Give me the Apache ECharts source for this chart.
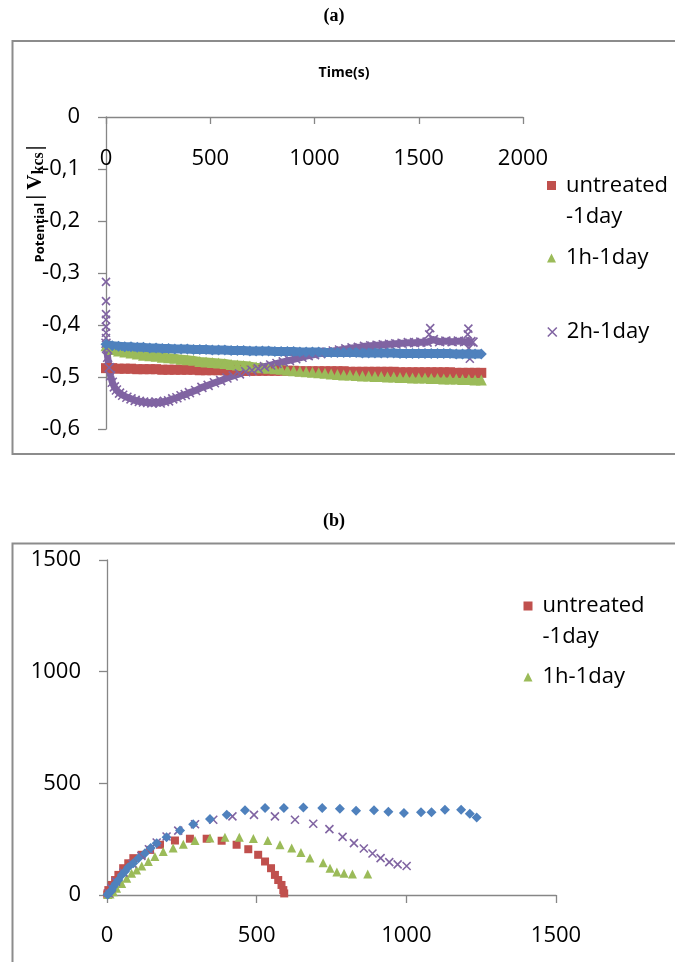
<!DOCTYPE html>
<html>
<head>
<meta charset="utf-8">
<script src="https://cdn.jsdelivr.net/npm/echarts@6/dist/echarts.min.js"></script>
<style>
  html, body { margin: 0; padding: 0; background: #fff; }
  #chart { width: 675px; height: 962px; }
</style>
</head>
<body>
<div id="chart"></div>
<script>
// ---------- (a) open-circuit potential vs time ----------
const timeA = [0,30,60,90,120,150,180,210,240,270,300,330,360,390,420,450,480,510,540,570,
  600,630,660,690,720,750,780,810,840,870,900,930,960,990,1020,1050,1080,1110,1140,1170,
  1200,1230,1260,1290,1320,1350,1380,1410,1440,1470,1500,1530,1560,1590,1620,1650,1680,1710,1740,1770,1800];

const untreatedA = [-0.483,-0.483,-0.484,-0.484,-0.484,-0.485,-0.485,-0.485,-0.485,-0.486,
  -0.486,-0.486,-0.486,-0.486,-0.486,-0.487,-0.487,-0.487,-0.487,-0.487,
  -0.487,-0.487,-0.488,-0.488,-0.488,-0.488,-0.488,-0.488,-0.488,-0.488,
  -0.488,-0.489,-0.489,-0.489,-0.489,-0.489,-0.489,-0.489,-0.489,-0.490,
  -0.490,-0.490,-0.490,-0.490,-0.490,-0.490,-0.490,-0.491,-0.491,-0.491,
  -0.491,-0.491,-0.491,-0.491,-0.491,-0.491,-0.492,-0.492,-0.492,-0.492,-0.492];

const h1A = [-0.440,-0.447,-0.450,-0.452,-0.454,-0.456,-0.458,-0.459,-0.460,-0.462,
  -0.463,-0.464,-0.466,-0.467,-0.468,-0.470,-0.471,-0.472,-0.473,-0.474,
  -0.476,-0.477,-0.478,-0.479,-0.481,-0.482,-0.483,-0.484,-0.485,-0.487,
  -0.488,-0.489,-0.490,-0.491,-0.492,-0.493,-0.494,-0.495,-0.496,-0.496,
  -0.497,-0.498,-0.498,-0.499,-0.499,-0.500,-0.500,-0.501,-0.501,-0.502,
  -0.502,-0.502,-0.503,-0.503,-0.504,-0.504,-0.504,-0.505,-0.505,-0.506,-0.506];

const h3A = [-0.437,-0.440,-0.441,-0.442,-0.442,-0.443,-0.443,-0.444,-0.444,-0.445,
  -0.445,-0.446,-0.446,-0.446,-0.447,-0.447,-0.447,-0.448,-0.448,-0.448,
  -0.449,-0.449,-0.449,-0.450,-0.450,-0.450,-0.450,-0.451,-0.451,-0.451,
  -0.451,-0.452,-0.452,-0.452,-0.452,-0.453,-0.453,-0.453,-0.453,-0.453,
  -0.453,-0.454,-0.454,-0.454,-0.454,-0.454,-0.454,-0.455,-0.455,-0.455,
  -0.455,-0.455,-0.455,-0.455,-0.455,-0.455,-0.456,-0.456,-0.456,-0.456,-0.456];

// 2h-1day: continuous trace ...
const time2h = [0,3,8,15,22,30,40,50,65,80,100,
  120,140,160,180,200,220,240,260,280,300,
  320,340,360,380,400,430,460,490,520,550,
  580,610,640,670,700,730,760,790,820,850,
  880,910,940,970,1000,1030,1060,1090,1120,1150,
  1180,1210,1240,1270,1300,1330,1360,1390,1420,1450,
  1480,1510,1540,1570,1600,1630,1660,1690,1720,1750,1760];
const h2A = [-0.435,-0.445,-0.462,-0.482,-0.498,-0.510,-0.519,-0.525,-0.531,-0.535,-0.539,
  -0.542,-0.545,-0.547,-0.548,-0.549,-0.550,-0.548,-0.550,-0.547,-0.546,
  -0.542,-0.540,-0.536,-0.534,-0.530,-0.526,-0.520,-0.516,-0.511,-0.507,
  -0.502,-0.498,-0.494,-0.490,-0.487,-0.484,-0.480,-0.477,-0.474,-0.471,
  -0.468,-0.465,-0.462,-0.459,-0.457,-0.455,-0.452,-0.450,-0.448,-0.446,
  -0.444,-0.443,-0.441,-0.440,-0.439,-0.438,-0.437,-0.436,-0.435,-0.434,
  -0.434,-0.433,-0.433,-0.428,-0.432,-0.431,-0.432,-0.431,-0.432,-0.432,-0.433];
// ... and its isolated excursions (start-up transient and late spikes)
const time2hSpikes = [0,0,0,0,0,0,0,1550,1555,1735,1738,1740,1745];
const h2Spikes = [-0.317,-0.354,-0.379,-0.390,-0.403,-0.415,-0.425,-0.418,-0.406,-0.418,-0.407,-0.445,-0.465];

const ticksA_x = [0, 500, 1000, 1500, 2000];
const ticksA_y = [0, -0.1, -0.2, -0.3, -0.4, -0.5, -0.6];

// ---------- (b) impedance plane: Z' (x) vs -Z'' (y) ----------
const untreatedRe = [1,2,4.5,16,27,38,54,71,88,116,144,177,227,277,333,383,433,472,505,528,548,561,572,583,589,592];
const untreatedIm = [2,8,22,45,67,90,120,142,165,180,202,225,244,252,252,243,225,205,180,150,120,90,67,45,22,7];

const h1Re = [3,10,21,32,49,66,82,99,116,138,160,188,221,255,294,344,394,442,489,537,578,617,648,678,722,745,768,792,820,871];
const h1Im = [2,5,15,30,52,75,97,112,130,150,172,195,210,227,244,255,259,259,253,244,225,210,190,166,144,120,103,97,94,94];

const h2Re = [6,15,30,55,85,115,140,166,199,238,294,355,419,491,561,628,689,743,787,825,858,887,914,943,971,1001];
const h2Im = [8,30,60,100,140,175,205,235,262,288,317,337,352,359,352,337,319,295,260,232,208,186,165,147,137,130];

const h3Re = [2,4,7,10,16,21,29,38,49,60,71,88,105,127,146,166,199,244,288,344,400,461,528,591,656,719,778,832,892,940,992,1049,1084,1129,1183,1212,1235];
const h3Im = [1,4,9,12,22,37,52,67,90,105,124,142,165,187,210,232,259,289,317,340,359,379,389,389,392,389,386,377,380,373,367,371,371,382,382,364,347];

const ticksB = [0, 500, 1000, 1500];

// ---------- styling ----------
const FONT = "'Open Sans', sans-serif";
const SERIF = "'Liberation Serif', serif";
const AXIS_GRAY = '#868686';
const RED = '#C0504D', GREEN = '#9BBB59', PURPLE = '#8064A2', BLUE = '#4F81BD';
const X_MARK = 'path://M0,0L10,10M10,0L0,10';
// square sitting at the top of a tall box, so it lines up with the first of two text lines
const SQUARE_TOP = 'path://M0,0H10V10H0Z M0,44.4L0.01,44.4';

const pairs = (xs, ys) => xs.map((x, i) => [x, ys[i]]);
const commaFmt = v => {
  const r = Math.round(v * 10) / 10;
  return r === 0 ? '0' : r.toFixed(1).replace('.', ',');
};
const plainFmt = v => String(Math.round(v));

const labelStyle = { fontSize: 22, fontFamily: FONT, color: '#000' };
const legendText = { fontSize: 22, fontFamily: FONT, color: '#000', lineHeight: 31, padding: [0, 0, 0, 5] };

function axisCommon(extra) {
  return Object.assign({
    type: 'value',
    splitLine: { show: false },
    axisLine: { show: true, onZero: false, lineStyle: { color: AXIS_GRAY, width: 1.3 } },
    axisTick: { show: true, length: 8, lineStyle: { color: AXIS_GRAY, width: 1.3 } }
  }, extra);
}

function scatter(name, gi, xs, ys, symbol, size, color, extraStyle) {
  return {
    type: 'scatter', name, xAxisIndex: gi, yAxisIndex: gi,
    data: pairs(xs, ys), symbol, symbolSize: size,
    itemStyle: Object.assign({ color, opacity: 1 }, extraStyle || {}),
    emphasis: { disabled: true }, silent: true
  };
}
// densely logged trace: overlapping markers merge into a solid band
function band(name, xs, ys, symbol, size, color, width, extraStyle) {
  return {
    type: 'line', name, xAxisIndex: 0, yAxisIndex: 0,
    data: pairs(xs, ys), symbol, symbolSize: size, showSymbol: true, showAllSymbol: true,
    lineStyle: { color, width, join: 'round' },
    itemStyle: Object.assign({ color, borderWidth: 0, opacity: 1 }, extraStyle || {}),
    emphasis: { disabled: true }, silent: true
  };
}
const xStroke = { borderColor: PURPLE, borderWidth: 1.6 };

const option = {
  animation: false,
  backgroundColor: '#fff',
  grid: [
    { left: 106, top: 117, width: 417, height: 312 },
    { left: 107, top: 560, width: 449, height: 335 }
  ],
  xAxis: [
    axisCommon({
      gridIndex: 0, min: ticksA_x[0], max: ticksA_x[ticksA_x.length - 1], interval: 500, position: 'top',
      axisTick: { show: true, inside: true, length: 7, lineStyle: { color: AXIS_GRAY, width: 1.3 } },
      axisLabel: Object.assign({ inside: true, margin: 31, formatter: plainFmt }, labelStyle)
    }),
    axisCommon({
      gridIndex: 1, min: ticksB[0], max: ticksB[ticksB.length - 1], interval: 500,
      axisLabel: Object.assign({ margin: 30, formatter: plainFmt }, labelStyle)
    })
  ],
  yAxis: [
    axisCommon({
      gridIndex: 0, min: ticksA_y[ticksA_y.length - 1], max: ticksA_y[0], interval: 0.1,
      axisLabel: Object.assign({ margin: 26, formatter: commaFmt }, labelStyle)
    }),
    axisCommon({
      gridIndex: 1, min: ticksB[0], max: ticksB[ticksB.length - 1], interval: 500,
      axisLabel: Object.assign({ margin: 26, formatter: plainFmt }, labelStyle)
    })
  ],
  legend: [
    { left: 547, top: 170, padding: 0, itemWidth: 9, itemHeight: 40, selectedMode: false,
      data: [{ name: 'untreated-1day', icon: SQUARE_TOP, itemStyle: { color: RED, borderWidth: 0 } }],
      formatter: () => 'untreated\n-1day', textStyle: legendText },
    { left: 547, top: 242.5, padding: 0, itemWidth: 9, itemHeight: 9, selectedMode: false,
      data: [{ name: '1h-1day', icon: 'triangle', itemStyle: { color: GREEN, borderWidth: 0 } }], textStyle: legendText },
    { left: 547, top: 316.5, padding: 0, itemWidth: 9, itemHeight: 9, selectedMode: false,
      data: [{ name: '2h-1day', icon: X_MARK, itemStyle: { color: PURPLE, borderColor: PURPLE, borderWidth: 1.6 } }],
      textStyle: legendText },
    { left: 523.5, top: 590.5, padding: 0, itemWidth: 9, itemHeight: 40, selectedMode: false,
      data: [{ name: 'untreated-1day', icon: SQUARE_TOP, itemStyle: { color: RED, borderWidth: 0 } }],
      formatter: () => 'untreated\n-1day', textStyle: legendText },
    { left: 523.5, top: 661.5, padding: 0, itemWidth: 9, itemHeight: 9, selectedMode: false,
      data: [{ name: '1h-1day', icon: 'triangle', itemStyle: { color: GREEN, borderWidth: 0 } }], textStyle: legendText }
  ],
  series: [
    band('untreated-1day', timeA, untreatedA, 'rect', 10, RED, 9),
    band('1h-1day', timeA, h1A, 'triangle', 11, GREEN, 9),
    band('2h-1day', time2h, h2A, X_MARK, 9, PURPLE, 7, xStroke),
    scatter('2h-1day', 0, time2hSpikes, h2Spikes, X_MARK, 8, PURPLE, xStroke),
    band('3h-1day', timeA, h3A, 'diamond', 11, BLUE, 9),

    scatter('untreated-1day', 1, untreatedRe, untreatedIm, 'rect', 8, RED),
    scatter('1h-1day', 1, h1Re, h1Im, 'triangle', 9, GREEN),
    scatter('2h-1day', 1, h2Re, h2Im, X_MARK, 8, PURPLE, xStroke),
    scatter('3h-1day', 1, h3Re, h3Im, 'diamond', 10, BLUE)
  ],
  graphic: [
    { type: 'rect', silent: true, shape: { x: 12.5, y: 41, width: 700, height: 413 },
      style: { fill: 'none', stroke: '#8c8c8c', lineWidth: 2 } },
    { type: 'rect', silent: true, shape: { x: 12.5, y: 543.5, width: 700, height: 500 },
      style: { fill: 'none', stroke: '#8c8c8c', lineWidth: 2 } },
    { type: 'text', x: 334, y: 16, silent: true,
      style: { text: '(a)', fontFamily: SERIF, fontWeight: 'bold', fontSize: 18,
               fill: '#000', align: 'center', verticalAlign: 'middle' } },
    { type: 'text', x: 334, y: 521, silent: true,
      style: { text: '(b)', fontFamily: SERIF, fontWeight: 'bold', fontSize: 18,
               fill: '#000', align: 'center', verticalAlign: 'middle' } },
    { type: 'text', x: 344, y: 73, silent: true,
      style: { text: 'Time(s)', fontFamily: FONT, fontWeight: 'bold', fontSize: 14,
               fill: '#000', align: 'center', verticalAlign: 'middle' } },
    { type: 'text', x: 36, y: 204, rotation: Math.PI / 2, silent: true,
      style: {
        text: '{p|Potențial }{v||}{v| V}{s|kcs}{v||}',
        align: 'center', verticalAlign: 'middle', fill: '#000',
        rich: {
          p: { fontFamily: FONT, fontWeight: 'bold', fontSize: 13, verticalAlign: 'bottom' },
          v: { fontFamily: SERIF, fontWeight: 'bold', fontSize: 21, verticalAlign: 'bottom' },
          s: { fontFamily: SERIF, fontWeight: 'bold', fontSize: 16, verticalAlign: 'bottom', padding: [0, 2, 0, 0] }
        }
      } }
  ]
};

const chart = echarts.init(document.getElementById('chart'), null, { renderer: 'canvas' });
chart.setOption(option);
</script>
</body>
</html>
